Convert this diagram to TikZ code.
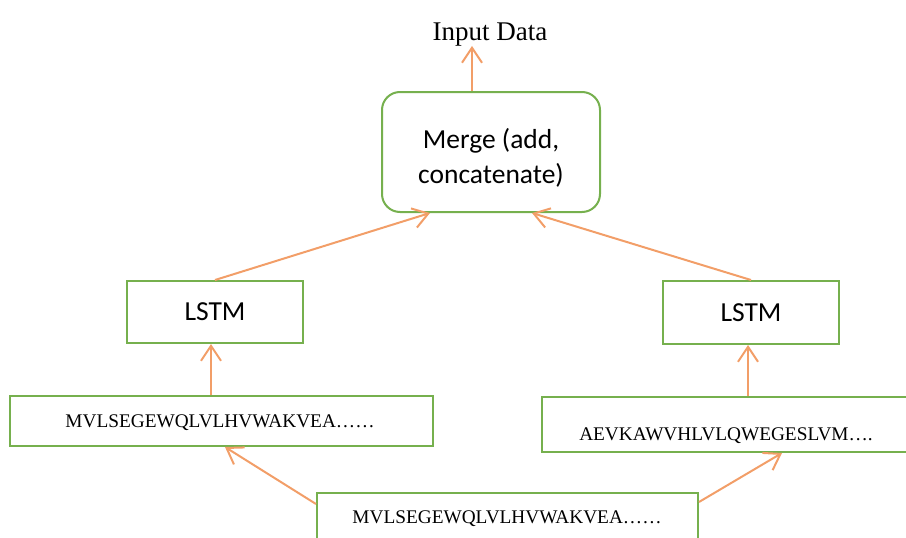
\documentclass[tikz,border=0pt]{standalone}
\usepackage{fontspec}
\setmainfont{Liberation Serif}
\newfontfamily\calibri{Carlito}
\usetikzlibrary{arrows.meta,calc}
\definecolor{boxgreen}{RGB}{118,176,78}
\definecolor{arrorange}{RGB}{242,158,104}
\tikzset{
  box/.style={draw=boxgreen, line width=2pt, rectangle, inner sep=0pt, fill=white},
  arr/.style={draw=arrorange, line width=2pt, -{Straight Barb[length=15pt,width=20pt,line width=2pt]}},
  seqtext/.style={inner sep=0pt, anchor=base, font=\fontsize{19.3}{22}\selectfont},
  caltext/.style={inner sep=0pt, font=\calibri\fontsize{27.5}{35}\selectfont, align=center},
}
\begin{document}
\begin{tikzpicture}[x=1pt,y=-1pt]
\clip (0,0) rectangle (906,538);
\useasboundingbox (0,0) rectangle (906,538);
% title text
\node[inner sep=0pt, anchor=base, font=\fontsize{27}{30}\selectfont] (inp) at (490,40) {Input Data};
% merge box
\node[box, rounded corners=18pt, minimum width=218pt, minimum height=120pt] (merge) at (491,152) {};
\node[caltext] (mergetext) at (491,158) {Merge (add,\\concatenate)};
% LSTM boxes
\node[box, minimum width=176pt, minimum height=62pt, caltext] (lstmL) at (215,312) {LSTM};
\node[box, minimum width=176pt, minimum height=63pt, caltext] (lstmR) at (751,312.5) {LSTM};
% sequence boxes
\node[box, minimum width=423pt, minimum height=50pt] (seqL) at (221.5,421) {};
\node[seqtext] (seqLt) at (220,427) {MVLSEGEWQLVLHVWAKVEA……};
\node[box, minimum width=388pt, minimum height=55pt] (seqR) at (736,424.5) {};
\node[seqtext] (seqRt) at (726,440) {AEVKAWVHLVLQWEGESLVM….};
\node[box, minimum width=381pt, minimum height=52pt] (bot) at (507.5,519) {};
\node[seqtext] (bott) at (507,523) {MVLSEGEWQLVLHVWAKVEA……};
% connectors
\coordinate (mtop) at ($(merge.north)+(-19,0)$);
\draw[arr] (mtop) -- (mtop |- inp.south);
\draw[arr] (lstmL.north) -- ($(merge.south)+(-61,0)$);
\draw[arr] (lstmR.north) -- ($(merge.south)+(41,0)$);
\coordinate (lb) at ($(lstmL.south)+(-4,0)$);
\draw[arr] (lb |- seqL.north) -- (lb);
\coordinate (rb) at ($(lstmR.south)+(-3,0)$);
\draw[arr] (rb |- seqR.north) -- (rb);
\draw[arr] ($(bot.north west)+(0,12)$) -- ($(seqL.south)+(3.5,0)$);
\draw[arr] ($(bot.north east)+(0,10)$) -- ($(seqR.south west)+(241,0)$);
\end{tikzpicture}
\end{document}
